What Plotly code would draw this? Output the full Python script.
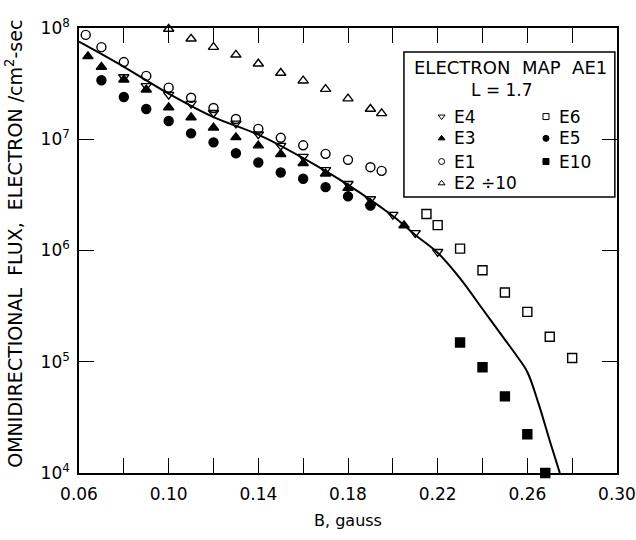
import plotly.graph_objects as go

# Magnetic field B (gauss) and omnidirectional electron flux (el/cm^2-sec)
b_e4 = [0.08, 0.09, 0.10, 0.11, 0.12, 0.13, 0.14, 0.15, 0.16, 0.17, 0.18, 0.19, 0.20, 0.21, 0.22]
f_e4 = [3.63e7, 3.02e7, 2.52e7, 2.09e7, 1.73e7, 1.39e7, 1.11e7, 8.77e6, 6.98e6, 5.31e6, 3.98e6, 2.90e6, 2.10e6, 1.44e6, 9.73e5]

b_e3 = [0.064, 0.07, 0.08, 0.09, 0.10, 0.11, 0.12, 0.13, 0.14, 0.15, 0.16, 0.17, 0.18, 0.19, 0.205]
f_e3 = [5.56e7, 4.46e7, 3.43e7, 2.79e7, 1.93e7, 1.57e7, 1.27e7, 1.04e7, 8.77e6, 7.33e6, 6.08e6, 4.90e6, 3.64e6, 2.67e6, 1.68e6]

b_e1 = [0.063, 0.07, 0.08, 0.09, 0.10, 0.11, 0.12, 0.13, 0.14, 0.15, 0.16, 0.17, 0.18, 0.19, 0.195]
f_e1 = [8.67e7, 6.73e7, 4.94e7, 3.71e7, 2.91e7, 2.36e7, 1.91e7, 1.52e7, 1.24e7, 1.03e7, 8.82e6, 7.39e6, 6.53e6, 5.61e6, 5.20e6]

b_e2 = [0.10, 0.11, 0.12, 0.13, 0.14, 0.15, 0.16, 0.17, 0.18, 0.19, 0.195]
f_e2 = [9.8e7, 8.0e7, 6.73e7, 5.74e7, 4.77e7, 3.94e7, 3.36e7, 2.82e7, 2.32e7, 1.87e7, 1.71e7]

b_e6 = [0.215, 0.22, 0.23, 0.24, 0.25, 0.26, 0.27, 0.28]
f_e6 = [2.13e6, 1.69e6, 1.04e6, 6.64e5, 4.19e5, 2.81e5, 1.68e5, 1.08e5]

b_e5 = [0.07, 0.08, 0.09, 0.10, 0.11, 0.12, 0.13, 0.14, 0.15, 0.16, 0.17, 0.18, 0.19]
f_e5 = [3.39e7, 2.40e7, 1.87e7, 1.46e7, 1.13e7, 9.38e6, 7.48e6, 6.18e6, 5.03e6, 4.42e6, 3.71e6, 3.07e6, 2.53e6]

b_e10 = [0.23, 0.24, 0.25, 0.26, 0.268]
f_e10 = [1.49e5, 8.93e4, 4.88e4, 2.23e4, 1.0e4]

# Model curve for the AE1 electron map, L = 1.7
b_curve = [0.06, 0.08, 0.10, 0.12, 0.14, 0.16, 0.18, 0.20, 0.21, 0.22, 0.23, 0.24,
           0.25, 0.255, 0.26, 0.265, 0.27, 0.2745]
f_curve = [7.53e7, 4.48e7, 2.57e7, 1.58e7, 1.10e7, 6.76e6, 3.89e6, 2.04e6, 1.38e6, 9.55e5,
           5.62e5, 2.98e5, 1.58e5, 1.15e5, 8.1e4, 4.2e4, 1.95e4, 1.0e4]

x_ticks = [0.06, 0.08, 0.10, 0.12, 0.14, 0.16, 0.18, 0.20, 0.22, 0.24, 0.26, 0.28, 0.30]
x_labels = ["0.06", "", "0.10", "", "0.14", "", "0.18", "", "0.22", "", "0.26", "", "0.30"]
y_ticks = [1e4, 1e5, 1e6, 1e7, 1e8]
y_labels = ["10<sup>4</sup>", "10<sup>5</sup>", "10<sup>6</sup>", "10<sup>7</sup>", "10<sup>8</sup>"]

FONT = "DejaVu Sans, Verdana, sans-serif"
INK = "black"

series = [
    ("E4", b_e4, f_e4, "triangle-down-open"),
    ("E3", b_e3, f_e3, "triangle-up"),
    ("E1", b_e1, f_e1, "circle-open"),
    ("E2 \u00f710", b_e2, f_e2, "triangle-up-open"),
    ("E6", b_e6, f_e6, "square-open"),
    ("E5", b_e5, f_e5, "circle"),
    ("E10", b_e10, f_e10, "square"),
]

fig = go.Figure()

fig.add_trace(go.Scatter(
    x=b_curve, y=f_curve, mode="lines",
    line=dict(color=INK, width=2, shape="spline", smoothing=1.0),
    showlegend=False, hoverinfo="skip",
))

for name, bx, fy, sym in series:
    fig.add_trace(go.Scatter(
        x=bx, y=fy, mode="markers", name=name, cliponaxis=False,
        marker=dict(symbol=sym, size=9, color=INK, line=dict(color=INK, width=1.4)),
        showlegend=False,
    ))

# Boxed key: two columns of symbols on an overlay axis spanning the plot area
key_rows = [0.801, 0.752, 0.700, 0.651]
key_cols = [0.674, 0.868]
key_items = [
    (series[0], 0, 0), (series[1], 0, 1), (series[2], 0, 2), (series[3], 0, 3),
    (series[4], 1, 0), (series[5], 1, 1), (series[6], 1, 2),
]
for (name, _, _, sym), col, row in key_items:
    fig.add_trace(go.Scatter(
        x=[key_cols[col]], y=[key_rows[row]], xaxis="x2", yaxis="y2",
        mode="markers", showlegend=False, hoverinfo="skip",
        marker=dict(symbol=sym, size=6, color=INK, line=dict(color=INK, width=1)),
    ))
    fig.add_annotation(
        xref="paper", yref="paper", x=key_cols[col] + 0.020, y=key_rows[row],
        text=name, showarrow=False, xanchor="left", yanchor="middle",
        font=dict(family=FONT, size=17, color=INK),
    )

fig.add_annotation(xref="paper", yref="paper", x=0.802, y=0.912,
                   text="ELECTRON  MAP  AE1", showarrow=False,
                   xanchor="center", yanchor="middle",
                   font=dict(family=FONT, size=18, color=INK))
fig.add_annotation(xref="paper", yref="paper", x=0.786, y=0.861,
                   text="L = 1.7", showarrow=False,
                   xanchor="center", yanchor="middle",
                   font=dict(family=FONT, size=17, color=INK))
fig.add_shape(type="rect", xref="paper", yref="paper",
              x0=0.604, x1=0.996, y0=0.620, y1=0.946,
              line=dict(color=INK, width=1.5), fillcolor="white", layer="below")

# Vertical axis title, placed beside the tick labels
fig.add_annotation(xref="paper", yref="paper", x=-0.121, y=0.515,
                   text="OMNIDIRECTIONAL  FLUX,  ELECTRON /cm<sup>2</sup>-sec",
                   textangle=-90, showarrow=False,
                   xanchor="center", yanchor="middle",
                   font=dict(family=FONT, size=19, color=INK))

axis_common = dict(
    showline=True, linecolor=INK, linewidth=1.6, mirror="ticks",
    ticks="inside", ticklen=15, tickwidth=1.3, tickcolor=INK,
    showgrid=False, zeroline=False, automargin=False,
    tickfont=dict(family=FONT, size=17, color=INK),
)

fig.update_layout(
    width=636, height=540,
    margin=dict(l=79, r=19, t=28, b=67),
    paper_bgcolor="white", plot_bgcolor="white",
    xaxis=dict(
        range=[0.06, 0.30], tickmode="array", tickvals=x_ticks, ticktext=x_labels,
        ticklabelstandoff=5,
        title=dict(text="B, gauss", font=dict(family=FONT, size=16, color=INK), standoff=12),
        **axis_common,
    ),
    yaxis=dict(
        type="log", range=[4, 8], tickmode="array", tickvals=y_ticks, ticktext=y_labels,
        ticklabelstandoff=4,
        **axis_common,
    ),
    xaxis2=dict(overlaying="x", range=[0, 1], visible=False, anchor="y2"),
    yaxis2=dict(overlaying="y", range=[0, 1], visible=False, anchor="x2"),
)

fig.write_html("out.html")
